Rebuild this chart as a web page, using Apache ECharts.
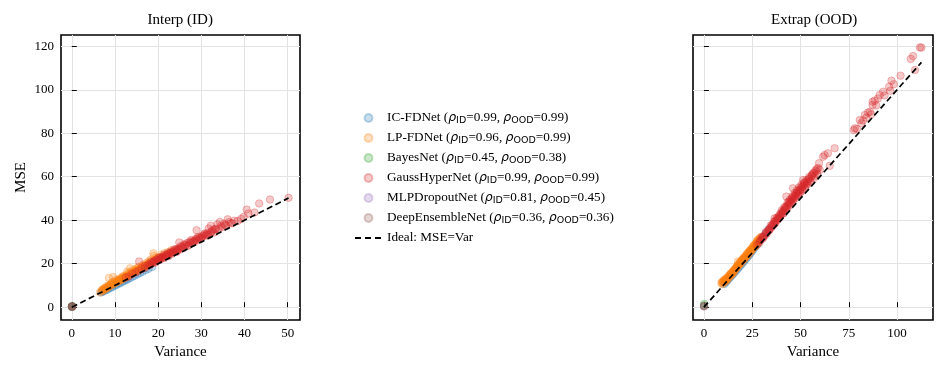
<!DOCTYPE html>
<html>
<head>
<meta charset="utf-8">
<script src="https://cdn.jsdelivr.net/npm/echarts@6/dist/echarts.min.js"></script>
<style>
	html, body { margin: 0; padding: 0; background: #fff; }
	#chart { width: 946px; height: 374px; }
</style>
</head>
<body>
<div id="chart"></div>
<script>
const modelNames = ['IC-FDNet', 'LP-FDNet', 'BayesNet', 'GaussHyperNet', 'MLPDropoutNet', 'DeepEnsembleNet'];
const rhoId = ['0.99', '0.96', '0.45', '0.99', '0.81', '0.36'];
const rhoOod = ['0.99', '0.99', '0.38', '0.99', '0.45', '0.36'];
const idealName = 'Ideal: MSE=Var';

const yTicks = [0, 20, 40, 60, 80, 100, 120];
const xTicksId = [0, 10, 20, 30, 40, 50];
const xTicksOod = [0, 25, 50, 75, 100];

// [variance, mse] pairs, interpolation split
const icFdId = [[6.8, 6.8], [7.2, 7.1], [7.6, 7.5], [8.1, 7.9], [8.5, 8.4], [9.0, 8.9], [9.4, 9.3], [9.9, 9.8], [10.3, 10.2], [10.8, 10.7], [11.2, 11.1], [11.7, 11.6], [12.1, 12.0], [12.6, 12.5], [13.0, 12.9], [13.5, 13.4], [14.1, 14.0], [14.6, 14.5], [15.2, 15.1], [15.8, 15.7], [16.4, 16.3], [17.1, 17.0], [17.8, 17.7], [18.6, 18.5]];
const lpFdId = [[6.5, 6.7], [6.9, 7.4], [7.3, 7.6], [7.6, 8.3], [8.0, 8.5], [8.3, 9.1], [8.6, 13.4], [8.6, 9.4], [9.2, 10.1], [9.5, 10.6], [9.6, 13.9], [10.1, 11.0], [10.4, 11.6], [10.7, 11.9], [11.0, 12.3], [11.3, 12.2], [11.6, 12.9], [11.9, 13.4], [12.2, 13.3], [12.5, 14.0], [12.8, 16.3], [13.1, 14.4], [13.4, 15.0], [13.5, 17.9], [13.7, 15.1], [14.0, 15.6], [14.3, 16.0], [14.6, 16.2], [14.9, 16.9], [15.2, 17.5], [15.6, 17.1], [16.0, 17.8], [16.4, 18.6], [16.8, 18.3], [17.2, 19.2], [17.7, 20.0], [18.1, 19.6], [18.6, 20.6], [18.9, 24.8], [19.0, 23.5], [19.7, 21.5], [20.3, 22.0], [21.0, 22.9], [21.8, 23.5], [22.6, 24.6], [23.5, 25.4], [24.5, 26.3],
	[7.0, 8.0], [7.4, 8.6], [7.8, 9.0], [8.2, 9.8], [8.8, 10.2], [9.1, 11.0], [9.4, 11.5], [9.9, 11.8], [10.3, 12.6], [10.9, 12.8], [11.4, 13.5], [11.8, 14.2], [12.3, 14.5], [12.9, 15.3], [13.3, 15.9], [13.9, 16.6], [14.4, 17.2], [15.0, 17.8], [15.4, 18.4], [16.1, 18.9], [16.6, 19.6], [17.4, 20.5], [17.9, 21.1], [18.3, 21.9], [19.4, 22.7], [20.0, 23.0], [20.7, 24.1], [21.4, 24.8], [22.2, 25.3], [23.0, 26.2],
	[7.1, 7.9], [7.7, 8.7], [8.4, 9.5], [9.0, 10.3], [9.7, 10.9], [10.5, 11.9], [11.1, 12.6], [11.6, 13.0], [12.0, 13.8], [12.7, 14.2], [13.2, 14.8], [13.8, 15.4], [14.2, 16.1], [14.8, 16.5], [15.3, 17.0], [15.8, 17.7], [16.3, 18.1], [16.9, 19.0], [17.5, 19.5], [18.0, 20.3], [18.8, 21.2], [19.5, 21.9], [20.5, 22.8]];
const bayesId = [[0.05, 0.3], [0.1, 0.6], [0.0, 0.1]];
const gaussId = [[12.5, 13.6], [13.2, 14.1], [14.0, 15.3], [14.8, 16.0], [15.6, 21.0], [15.5, 16.8], [16.2, 17.6], [16.9, 18.0], [17.5, 19.1], [18.1, 19.4], [18.6, 20.2], [19.0, 20.9], [19.4, 20.6], [19.8, 21.7], [20.2, 21.6], [20.6, 22.4], [21.0, 23.3], [21.3, 22.5], [21.7, 23.7], [22.1, 24.1], [22.4, 23.4], [22.8, 25.0], [23.2, 24.6], [23.5, 25.7], [23.9, 26.1], [24.3, 25.4], [24.6, 27.0], [24.9, 29.8], [25.0, 26.5], [25.4, 27.6], [25.8, 27.1], [26.2, 28.4], [26.6, 29.4], [27.0, 28.5], [27.4, 29.6], [27.8, 30.4], [28.2, 29.8], [28.6, 31.0], [28.9, 35.4], [29.0, 30.7], [29.4, 31.8], [29.8, 31.3], [30.2, 32.5], [30.6, 33.4], [31.0, 32.8], [31.4, 34.1], [31.7, 36.2], [32.1, 33.9], [32.2, 37.5], [32.5, 35.2], [33.0, 34.4], [33.7, 38.0], [34.3, 39.2], [34.8, 36.8], [35.3, 38.4], [36.1, 40.4], [36.8, 38.6], [37.6, 39.8], [38.4, 39.6], [40.5, 44.9], [40.9, 43.1], [42.3, 43.5], [43.4, 47.7], [45.9, 49.5], [50.2, 50.3],
	[17.0, 19.0], [17.8, 19.9], [18.4, 21.0], [19.2, 21.4], [20.0, 22.6], [20.8, 23.0], [21.5, 24.2], [22.3, 24.9], [23.0, 25.6], [23.7, 26.6], [24.4, 26.2], [25.2, 28.0], [26.0, 28.9], [26.8, 28.1], [27.6, 30.9], [28.4, 30.4], [29.2, 32.3], [30.0, 31.9], [30.8, 33.9], [31.6, 33.0], [32.8, 35.7], [33.4, 36.1], [34.0, 35.9], [35.7, 37.4], [36.4, 39.1], [37.2, 38.6], [39.2, 40.6], [39.8, 41.5],
	[18.8, 20.5], [19.6, 21.9], [20.4, 22.9], [21.1, 22.7], [21.9, 23.9], [22.6, 24.7], [23.3, 25.1], [24.1, 26.6], [24.8, 26.8], [25.6, 27.9], [26.4, 28.6], [27.2, 29.9], [28.0, 29.9], [28.8, 31.5], [29.6, 32.1], [30.4, 32.9], [31.2, 33.5], [32.3, 34.6], [33.2, 35.8], [34.6, 37.4], [35.5, 37.9]];
const mlpId = [[0.05, 0.2], [0.1, 0.4]];
const deepId = [[0.05, 0.2], [0.08, 0.3], [0.1, 0.1], [0.0, 0.4]];
const idealId = [[0, 0], [50.2, 50.2]];

// extrapolation split
const icFdOod = [[10.5, 10.6], [11.3, 11.3], [12.1, 12.2], [12.9, 13.0], [13.7, 13.8], [14.5, 14.6], [15.3, 15.4], [16.1, 16.2], [16.9, 17.0], [17.7, 17.8], [18.5, 18.7], [19.3, 19.5], [20.1, 20.4], [20.9, 21.2], [21.7, 22.1], [22.5, 22.9], [23.3, 23.8], [24.1, 24.7], [24.9, 25.6], [25.7, 26.6], [26.5, 27.6], [27.3, 28.6], [28.3, 29.8], [29.3, 31.0], [30.5, 32.4], [32.0, 34.0], [33.5, 35.8]];
const lpFdOod = [[9.0, 11.0], [9.6, 10.6], [10.2, 11.8], [10.8, 11.5], [11.4, 12.7], [12.0, 12.4], [12.6, 13.6], [13.2, 13.9], [13.8, 15.1], [14.4, 14.8], [15.0, 16.2], [15.6, 16.0], [16.2, 17.4], [16.8, 17.9], [17.4, 19.3], [17.6, 21.0], [18.0, 19.0], [18.6, 20.4], [19.2, 20.2], [19.8, 21.6], [20.4, 22.3], [21.0, 22.0], [21.6, 23.4], [22.2, 24.2], [22.8, 23.8], [23.4, 25.4], [24.0, 26.1], [24.6, 25.8], [25.2, 27.3], [25.8, 28.2], [26.4, 27.9], [27.0, 29.4], [27.6, 30.5], [28.2, 30.0], [28.8, 31.6], [29.6, 32.4],
	[9.3, 11.6], [9.9, 11.4], [10.5, 12.3], [11.1, 12.1], [11.7, 13.3], [12.3, 13.1], [12.9, 14.4], [13.5, 14.6], [14.1, 15.8], [14.7, 15.6], [15.3, 16.8], [15.9, 17.3], [16.5, 18.0], [17.1, 18.7], [17.7, 19.5], [18.3, 19.8], [18.9, 21.1], [19.5, 21.3], [20.1, 22.2], [20.7, 22.9], [21.3, 23.1], [21.9, 24.0], [22.5, 24.9], [23.1, 24.8], [23.7, 26.0], [24.3, 26.7], [24.9, 26.6], [25.5, 28.0], [26.1, 28.7], [26.7, 28.6], [27.3, 30.0], [27.9, 31.1], [28.5, 30.8], [29.2, 31.9],
	[9.8, 11.9], [10.6, 12.7], [11.5, 13.0], [12.4, 13.9], [13.3, 14.9], [14.2, 15.4], [15.1, 16.5], [16.0, 17.6], [16.9, 18.4], [17.8, 19.2], [18.7, 20.3], [19.6, 21.0], [20.5, 22.0], [21.4, 22.8], [22.3, 23.8], [23.2, 25.3], [24.1, 25.5], [25.0, 26.9], [25.9, 27.6], [26.8, 29.0], [27.7, 29.6], [28.6, 30.5]];
const bayesOod = [[0.1, 1.5], [0.0, 0.8]];
const gaussOod = [[27.5, 28.6], [28.5, 29.4], [29.5, 30.9], [30.5, 31.6], [31.5, 33.0], [32.5, 33.8], [33.5, 35.2], [34.2, 36.3], [35.0, 36.9], [35.8, 38.1], [36.6, 40.9], [36.5, 38.2], [37.2, 39.6], [38.0, 40.1], [38.6, 41.5], [39.3, 41.3], [40.0, 42.7], [40.6, 43.9], [41.2, 43.2], [41.8, 44.8], [42.4, 46.1], [42.7, 50.9], [43.0, 45.3], [43.6, 47.0], [44.2, 46.6], [44.8, 48.2], [45.4, 49.6], [46.1, 54.7], [46.0, 48.8], [46.6, 50.5], [47.2, 50.1], [47.8, 51.7], [48.4, 52.9], [49.0, 52.1], [49.6, 53.8], [50.2, 55.0], [50.8, 54.2], [51.3, 58.5], [51.4, 55.8], [52.0, 56.6], [52.7, 55.9], [53.4, 57.8], [54.1, 58.9], [54.9, 58.0], [55.6, 60.1], [56.5, 61.6], [57.3, 60.4], [58.2, 62.5], [59.6, 66.2], [60.0, 63.1], [61.7, 69.2], [62.5, 70.0], [64.2, 70.8], [65.1, 65.0], [67.7, 73.1], [77.6, 81.5], [78.1, 82.3], [79.2, 82.0], [80.7, 86.1], [81.5, 84.6], [82.4, 85.9], [83.3, 88.4], [84.1, 87.2], [85.0, 89.5], [86.0, 89.9], [86.6, 88.7], [87.3, 93.0], [87.3, 94.5], [88.4, 95.0], [89.2, 92.8], [90.1, 96.0], [91.0, 97.6], [92.8, 99.1], [93.5, 97.4], [95.9, 101.4], [96.5, 99.5], [97.1, 104.2], [98.3, 102.6], [101.8, 106.5], [107.1, 114.2], [108.3, 115.5], [109.3, 109.1], [111.8, 119.5], [112.6, 119.4],
	[29.0, 30.5], [30.0, 32.2], [31.0, 32.6], [32.0, 34.6], [33.0, 35.0], [34.0, 35.6], [34.6, 37.6], [35.4, 37.2], [36.2, 39.2], [37.0, 38.8], [37.6, 41.0], [38.4, 40.5], [39.0, 42.4], [39.6, 42.0], [40.3, 44.6], [41.0, 44.1], [41.6, 46.0], [42.2, 45.0], [43.3, 48.2], [44.0, 47.6], [44.5, 49.4], [45.2, 48.0], [45.8, 51.0], [46.3, 49.5], [47.0, 52.6], [47.5, 51.0], [48.1, 53.8], [48.7, 51.5], [49.3, 55.2], [49.9, 52.8], [50.5, 56.3], [51.1, 53.6], [51.7, 57.2], [52.3, 54.9], [53.0, 58.4], [53.7, 56.6], [54.5, 59.9], [55.2, 57.7], [56.0, 61.0], [56.9, 59.3], [57.7, 62.9], [58.7, 61.2], [59.2, 64.0],
	[30.5, 32.0], [32.3, 34.1], [33.8, 35.8], [35.2, 37.7], [36.8, 39.6], [38.2, 41.0], [39.8, 43.2], [40.8, 43.0], [42.0, 45.6], [42.9, 46.5], [43.9, 48.5], [44.9, 49.0], [45.6, 50.2], [46.8, 51.2], [47.7, 52.4], [48.9, 53.6], [50.0, 54.1], [51.0, 55.4], [52.2, 57.4], [53.3, 57.1], [54.6, 59.0], [55.9, 60.6], [57.0, 61.7], [58.5, 63.7]];
const mlpOod = [[0.05, 0.4]];
const deepOod = [[0.05, 0.3], [0.1, 0.6]];
const idealOod = [[0, 0], [112.6, 112.6]];

const colors = ['#1f77b4', '#ff7f0e', '#2ca02c', '#d62728', '#9467bd', '#8c564b'];
const seriesId = [icFdId, lpFdId, bayesId, gaussId, mlpId, deepId];
const seriesOod = [icFdOod, lpFdOod, bayesOod, gaussOod, mlpOod, deepOod];

const serif = 'Liberation Serif';

const fade = (hex, a) => {
	const n = parseInt(hex.slice(1), 16);
	return `rgba(${(n >> 16) & 255},${(n >> 8) & 255},${n & 255},${a})`;
};

const xAxisBase = (gridIndex, min, max, ticks) => ({
	type: 'value',
	gridIndex,
	min,
	max,
	name: 'Variance',
	nameLocation: 'middle',
	nameGap: 24,
	nameTextStyle: { fontFamily: serif, fontSize: 15, color: '#000' },
	axisLine: { show: false },
	axisTick: { show: true, inside: true, length: 5, customValues: ticks, lineStyle: { color: '#000', width: 1 } },
	axisLabel: { customValues: ticks, fontFamily: serif, fontSize: 13, color: '#000', margin: 7 },
	splitLine: { show: true, lineStyle: { color: '#e3e3e3', width: 1 } }
});

const yAxisBase = (gridIndex, showLabels) => ({
	type: 'value',
	gridIndex,
	min: -5.9,
	max: 125.2,
	name: showLabels ? 'MSE' : '',
	nameLocation: 'middle',
	nameGap: 32,
	nameTextStyle: { fontFamily: serif, fontSize: 15, color: '#000' },
	axisLine: { show: false },
	axisTick: { show: true, inside: true, length: 5, customValues: yTicks, lineStyle: { color: '#000', width: 1 } },
	axisLabel: { show: showLabels, customValues: yTicks, fontFamily: serif, fontSize: 13, color: '#000', margin: 7 },
	splitLine: { show: true, lineStyle: { color: '#e3e3e3', width: 1 } }
});

const scatter = (name, data, color, axisIndex) => ({
	name,
	type: 'scatter',
	xAxisIndex: axisIndex,
	yAxisIndex: axisIndex,
	data,
	symbolSize: 7.5,
	itemStyle: { color: fade(color, 0.3), borderColor: fade(color, 0.35), borderWidth: 1 },
	emphasis: { disabled: true }
});

const ideal = (data, axisIndex) => ({
	name: idealName,
	type: 'line',
	xAxisIndex: axisIndex,
	yAxisIndex: axisIndex,
	data,
	symbol: 'none',
	showSymbol: false,
	z: 5,
	lineStyle: { color: '#000', width: 1.7, type: [6, 3.5] },
	itemStyle: { color: '#000' }
});

const series = [];
modelNames.forEach((name, i) => {
	series.push(scatter(name, seriesId[i], colors[i], 0));
});
series.push(ideal(idealId, 0));
modelNames.forEach((name, i) => {
	series.push(scatter(name, seriesOod[i], colors[i], 1));
});
series.push(ideal(idealOod, 1));

const legendText = (name) => {
	const i = modelNames.indexOf(name);
	if (i < 0) return name;
	return `${name} ({rho|ρ}{sub|ID}=${rhoId[i]}, {rho|ρ}{sub|OOD}=${rhoOod[i]})`;
};

const myChart = echarts.init(document.getElementById('chart'), null, { renderer: 'canvas' });
const option = {
	animation: false,
	backgroundColor: '#fff',
	textStyle: { fontFamily: serif },
	graphic: [
		{ type: 'text', left: 180.5 - 33, top: 13, style: { text: 'Interp (ID)', fontFamily: serif, fontSize: 15, fill: '#000' } },
		{ type: 'text', left: 813 - 42, top: 13, style: { text: 'Extrap (OOD)', fontFamily: serif, fontSize: 15, fill: '#000' } }
	],
	grid: [
		{ left: 61, top: 35, width: 239, height: 285, show: true, borderColor: '#000', borderWidth: 1.6, backgroundColor: 'transparent', containLabel: false },
		{ left: 693, top: 35, width: 240, height: 285, show: true, borderColor: '#000', borderWidth: 1.6, backgroundColor: 'transparent', containLabel: false }
	],
	xAxis: [
		xAxisBase(0, -2.5, 52.85, xTicksId),
		xAxisBase(1, -5.65, 118.6, xTicksOod)
	],
	yAxis: [
		yAxisBase(0, true),
		yAxisBase(1, false)
	],
	legend: {
		orient: 'vertical',
		left: 349,
		top: 105,
		itemWidth: 27,
		itemHeight: 8,
		itemGap: 4,
		data: [...modelNames, { name: idealName, itemStyle: { opacity: 0 }, lineStyle: { color: '#000', width: 2, type: [6, 4] } }],
		formatter: legendText,
		textStyle: {
			fontFamily: serif,
			fontSize: 13.2,
			color: '#000',
			lineHeight: 16,
			rich: {
				rho: { fontFamily: 'DejaVu Sans', fontStyle: 'italic', fontSize: 12.5, lineHeight: 16 },
				sub: { fontFamily: 'DejaVu Sans', fontSize: 9.5, lineHeight: 16, verticalAlign: 'bottom', padding: [6, 0, 0, 0] }
			}
		}
	},
	series
};
myChart.setOption(option, true);
</script>
</body>
</html>
